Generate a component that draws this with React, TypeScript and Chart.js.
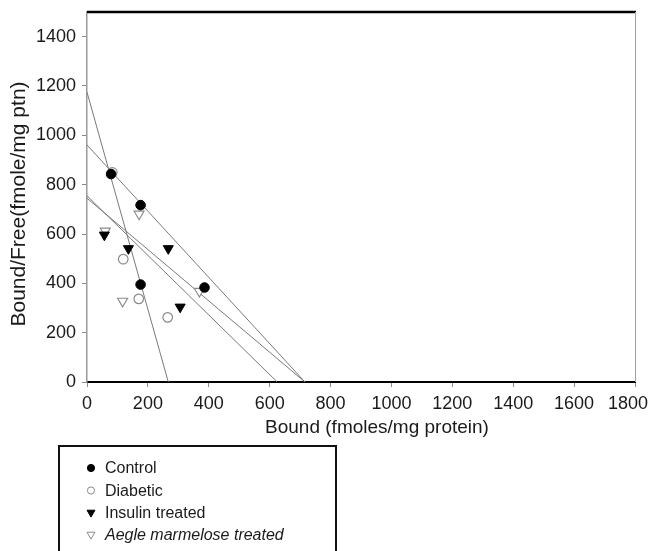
import React, { useEffect, useRef } from 'react';
import { Chart, registerables } from 'chart.js';

Chart.register(...registerables);

const FONT = '"Liberation Sans", Arial, Helvetica, sans-serif';

// Series labels (legend order)
const seriesLabels = ['Control', 'Diabetic', 'Insulin treated', 'Aegle marmelose treated'];

// Scatchard points: Bound (x) vs Bound/Free (y)
const controlX = [79, 176, 176, 386];
const controlY = [843, 717, 395, 383];
const diabeticX = [83, 119, 170, 265];
const diabeticY = [850, 498, 337, 262];
const insulinX = [57, 136, 267, 306];
const insulinY = [596, 541, 541, 304];
const aegleX = [60, 117, 171, 369];
const aegleY = [612, 328, 681, 368];

// Regression lines: y-intercept (at Bound = 0) and x-intercept (Bound/Free = 0)
const lineYIntercepts = [1175, 961, 755, 745];
const lineXIntercepts = [267, 716, 625, 716];

// Axis ticks
const xTicks = [0, 200, 400, 600, 800, 1000, 1200, 1400, 1600, 1800];
const yTicks = [0, 200, 400, 600, 800, 1000, 1200, 1400];

const xTitle = 'Bound (fmoles/mg protein)';
const yTitle = 'Bound/Free(fmole/mg ptn)';

const toPoints = (xs: number[], ys: number[]) => xs.map((x, i) => ({ x, y: ys[i] }));

const GRAY = '#8a8a8a';
const LINE_GRAY = '#7a7a7a';
const TEXT = '#1a1a1a';

const decorPlugin = {
  id: 'decor',
  afterDraw(chart: any) {
    const { ctx, chartArea } = chart;
    const { left, right, top, bottom } = chartArea;
    ctx.save();
    // top frame (black, thick)
    ctx.strokeStyle = '#000';
    ctx.lineWidth = 2.5;
    ctx.beginPath();
    ctx.moveTo(left, top);
    ctx.lineTo(right + 1, top);
    ctx.stroke();
    // right frame (gray, thin)
    ctx.strokeStyle = '#a0a0a0';
    ctx.lineWidth = 1;
    ctx.beginPath();
    ctx.moveTo(right + 0.5, top);
    ctx.lineTo(right + 0.5, bottom);
    ctx.stroke();

    // x tick labels, positioned by the x scale (kept inside the canvas)
    const xs = chart.scales.x;
    ctx.fillStyle = TEXT;
    ctx.font = `18px ${FONT}`;
    ctx.textAlign = 'center';
    ctx.textBaseline = 'alphabetic';
    xTicks.forEach((v) => {
      const label = String(v);
      const w = ctx.measureText(label).width;
      let px = xs.getPixelForValue(v);
      if (px + w / 2 > chart.width - 3) px = chart.width - 3 - w / 2;
      ctx.fillText(label, px, 409);
    });

    // axis titles
    ctx.font = `19px ${FONT}`;
    ctx.fillText(xTitle, 377, 433);

    ctx.save();
    ctx.translate(25, 204);
    ctx.rotate(-Math.PI / 2);
    ctx.font = `21px ${FONT}`;
    ctx.fillText(yTitle, 0, 0);
    ctx.restore();

    // legend box
    ctx.strokeStyle = '#111';
    ctx.lineWidth = 2;
    ctx.strokeRect(59, 446, 277, 130);

    const rows = [468, 490.5, 512.5, 534.5];
    const mx = 91;
    chart.data.datasets.slice(0, 4).forEach((ds: any, i: number) => {
      const y = rows[i];
      ctx.lineWidth = 1;
      ctx.beginPath();
      if (ds.pointStyle === 'circle') {
        ctx.arc(mx, y, 3.6, 0, Math.PI * 2);
      } else {
        const r = 4.6;
        ctx.moveTo(mx - r * 0.866, y - r * 0.5);
        ctx.lineTo(mx + r * 0.866, y - r * 0.5);
        ctx.lineTo(mx, y + r);
        ctx.closePath();
      }
      ctx.fillStyle = ds.backgroundColor;
      ctx.fill();
      ctx.strokeStyle = ds.borderColor;
      ctx.stroke();

      ctx.fillStyle = TEXT;
      ctx.textAlign = 'left';
      ctx.textBaseline = 'middle';
      ctx.font = `${i === 3 ? 'italic ' : ''}16px ${FONT}`;
      ctx.fillText(ds.label, 105, y + 1);
    });
    ctx.restore();
  },
};

export default function App() {
  const canvasRef = useRef<HTMLCanvasElement | null>(null);

  useEffect(() => {
    document.body.style.margin = '0';
    const canvas = canvasRef.current;
    if (!canvas) return;

    const pointSets = [
      { x: controlX, y: controlY, style: 'circle', rot: 0, r: 4.8, bg: '#000', bc: '#000', bw: 1 },
      { x: diabeticX, y: diabeticY, style: 'circle', rot: 0, r: 4.8, bg: '#fff', bc: GRAY, bw: 1.2 },
      { x: insulinX, y: insulinY, style: 'triangle', rot: 180, r: 5.8, bg: '#000', bc: '#000', bw: 1 },
      { x: aegleX, y: aegleY, style: 'triangle', rot: 180, r: 5.8, bg: '#fff', bc: GRAY, bw: 1.1 },
    ];

    const datasets: any[] = pointSets.map((s, i) => ({
      label: seriesLabels[i],
      data: toPoints(s.x, s.y),
      pointStyle: s.style,
      rotation: s.rot,
      pointRadius: s.r,
      backgroundColor: s.bg,
      borderColor: s.bc,
      borderWidth: s.bw,
      showLine: false,
    }));

    lineYIntercepts.forEach((yi, i) => {
      datasets.push({
        label: `fit ${i + 1}`,
        data: [
          { x: 0, y: yi },
          { x: lineXIntercepts[i], y: 0 },
        ],
        showLine: true,
        pointRadius: 0,
        borderColor: LINE_GRAY,
        borderWidth: 1,
        backgroundColor: LINE_GRAY,
      });
    });

    const chart = new Chart(canvas, {
      type: 'scatter',
      data: { datasets },
      options: {
        animation: false,
        responsive: false,
        devicePixelRatio: 1,
        layout: { padding: { top: 12, left: 0, right: 16, bottom: 0 } },
        plugins: {
          legend: { display: false },
          tooltip: { enabled: false },
          title: { display: false },
        },
        scales: {
          x: {
            type: 'linear',
            min: 0,
            max: 1800,
            afterBuildTicks: (s: any) => {
              s.ticks = xTicks.map((v) => ({ value: v }));
            },
            afterFit: (s: any) => {
              s.height = 169;
              s.paddingLeft = 0;
              s.paddingRight = 0;
            },
            grid: {
              drawOnChartArea: false,
              drawTicks: true,
              tickLength: 5,
              color: GRAY,
            },
            border: { display: true, color: '#000', width: 2 },
            ticks: { display: false },
          },
          y: {
            type: 'linear',
            min: 0,
            max: 1500,
            afterBuildTicks: (s: any) => {
              s.ticks = yTicks.map((v) => ({ value: v }));
            },
            afterFit: (s: any) => {
              s.width = 87;
              s.paddingTop = 0;
              s.paddingBottom = 0;
            },
            grid: {
              drawOnChartArea: false,
              drawTicks: true,
              tickLength: 5,
              color: GRAY,
            },
            border: { display: true, color: '#9a9a9a', width: 1.5 },
            ticks: {
              color: TEXT,
              font: { family: FONT, size: 18 },
              padding: 6,
              autoSkip: false,
              callback: (v: any) => String(v),
            },
          },
        },
      },
      plugins: [decorPlugin],
    });

    return () => chart.destroy();
  }, []);

  return (
    <div style={{ position: 'fixed', left: 0, top: 0, width: 651, height: 551, overflow: 'hidden', background: '#fff' }}>
      <canvas ref={canvasRef} width={651} height={551} style={{ width: 651, height: 551, display: 'block' }} />
    </div>
  );
}
